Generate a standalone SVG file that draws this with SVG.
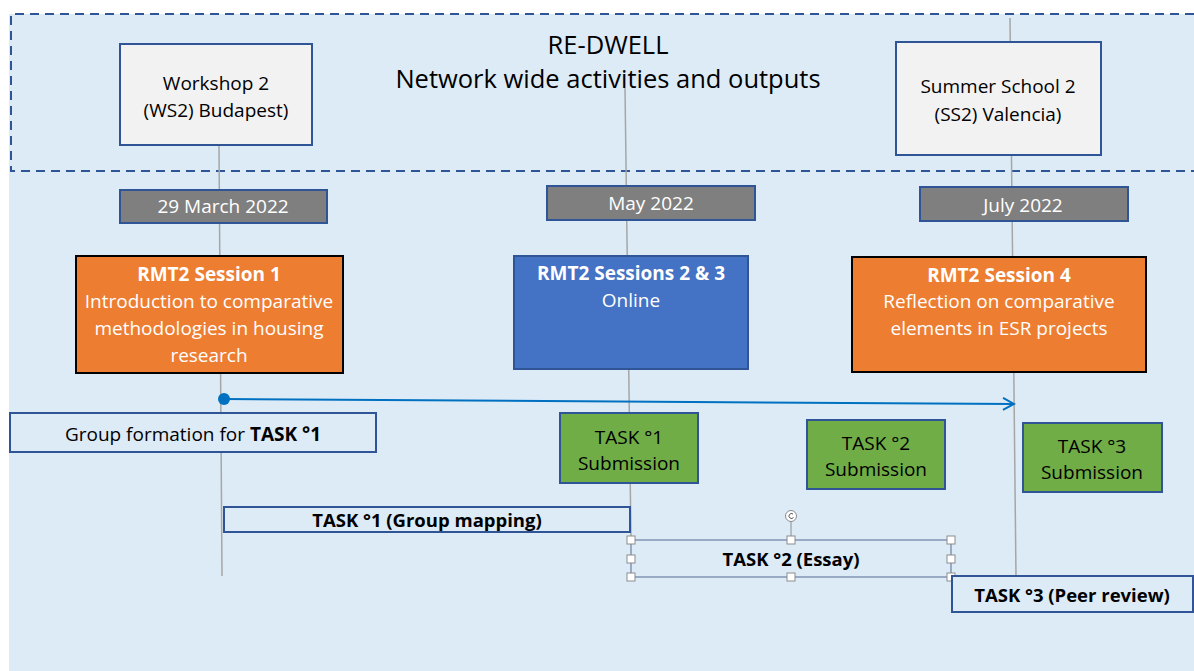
<svg xmlns="http://www.w3.org/2000/svg" width="1194" height="671" viewBox="0 0 1194 671">
<defs>
<style>
text{font-family:"Open Sans","Liberation Sans",sans-serif;text-anchor:middle}
.t18{font-size:19px;fill:#000}
.w{fill:#fff}
.b{font-weight:bold}
.tb{font-size:18.5px;font-weight:bold;fill:#000}
.venue{fill:#F2F2F2;stroke:#2F5597;stroke-width:2}
.date{fill:#7F7F7F;stroke:#2F5597;stroke-width:2}
.orange{fill:#ED7D31;stroke:#000;stroke-width:2}
.blue{fill:#4472C4;stroke:#2F5597;stroke-width:2}
.green{fill:#70AD47;stroke:#2F5597;stroke-width:2}
.task{fill:#DDEBF7;stroke:#2F5597;stroke-width:2}
.vline{stroke:#A6A6A6;stroke-width:1.5;fill:none}
.handle{fill:#fff;stroke:#8C8C8C;stroke-width:1}
</style>
<marker id="arr" markerWidth="14" markerHeight="14" refX="12" refY="7" orient="auto" markerUnits="userSpaceOnUse">
<path d="M1,1 L12,7 L1,13" fill="none" stroke="#0070C0" stroke-width="2"/>
</marker>
</defs>
<rect x="0" y="0" width="1194" height="671" fill="#fff"/>
<rect x="9" y="14" width="1185" height="657" fill="#DDEBF7"/>
<g id="network-band">
<path d="M1194,14 H11 V171 H1194" fill="none" stroke="#2F5597" stroke-width="2" stroke-dasharray="9,6"/>
<text class="t18" style="font-size:25.5px" x="608" y="54">RE-DWELL</text>
<text class="t18" style="font-size:25.5px" x="608" y="88">Network wide activities and outputs</text>
</g>
<g id="timelines">
<line class="vline" x1="219" y1="145" x2="222" y2="576"/>
<line class="vline" x1="625" y1="88" x2="631" y2="540"/>
<line class="vline" x1="1010" y1="18" x2="1016" y2="577"/>
</g>
<g id="ws2">
<rect class="venue" x="120" y="44" width="192" height="101"/>
<text class="t18" x="216" y="90">Workshop 2</text>
<text class="t18" x="216" y="117">(WS2) Budapest)</text>
</g>
<g id="ss2">
<rect class="venue" x="896" y="42" width="205" height="113"/>
<text class="t18" x="998" y="93">Summer School 2</text>
<text class="t18" x="998" y="121">(SS2) Valencia)</text>
</g>
<g id="date1">
<rect class="date" x="120" y="190" width="207" height="33"/>
<text class="t18 w" x="223" y="213">29 March 2022</text>
</g>
<g id="date2">
<rect class="date" x="547" y="186" width="208" height="34"/>
<text class="t18 w" x="651" y="210">May 2022</text>
</g>
<g id="date3">
<rect class="date" x="920" y="187" width="208" height="34"/>
<text class="t18 w" x="1023" y="212">July 2022</text>
</g>
<g id="session1">
<rect class="orange" x="76" y="256" width="267" height="117"/>
<text class="t18 w b" x="209" y="281">RMT2 Session 1</text>
<text class="t18 w" x="209" y="308">Introduction to comparative</text>
<text class="t18 w" x="209" y="335">methodologies in housing</text>
<text class="t18 w" x="209" y="362">research</text>
</g>
<g id="session23">
<rect class="blue" x="514" y="256" width="234" height="113"/>
<text class="t18 w b" x="631" y="280">RMT2 Sessions 2 &amp; 3</text>
<text class="t18 w" x="631" y="307">Online</text>
</g>
<g id="session4">
<rect class="orange" x="852" y="257" width="294" height="115"/>
<text class="t18 w b" x="999" y="282">RMT2 Session 4</text>
<text class="t18 w" x="999" y="308">Reflection on comparative</text>
<text class="t18 w" x="999" y="335">elements in ESR projects</text>
</g>
<g id="connectors">
<line x1="224" y1="399" x2="1014" y2="404" stroke="#0070C0" stroke-width="2" marker-end="url(#arr)"/>
<circle cx="224" cy="399" r="6" fill="#0070C0"/>
</g>
<g id="group-formation">
<rect class="task" x="10" y="413" width="366" height="39"/>
<text class="t18" x="193" y="441">Group formation for <tspan class="b">TASK °1</tspan></text>
</g>
<g id="task1-sub">
<rect class="green" x="560" y="413" width="138" height="70"/>
<text class="t18" x="629" y="444">TASK °1</text>
<text class="t18" x="629" y="470">Submission</text>
</g>
<g id="task2-sub">
<rect class="green" x="807" y="420" width="138" height="69"/>
<text class="t18" x="876" y="450">TASK °2</text>
<text class="t18" x="876" y="476">Submission</text>
</g>
<g id="task3-sub">
<rect class="green" x="1023" y="423" width="139" height="69"/>
<text class="t18" x="1092" y="453">TASK °3</text>
<text class="t18" x="1092" y="479">Submission</text>
</g>
<g id="task1">
<rect class="task" x="224" y="507" width="406" height="25"/>
<text class="tb" x="427" y="527">TASK °1 (Group mapping)</text>
</g>
<g id="task2">
<rect x="631" y="540" width="320" height="37" fill="none" stroke="#2F5597" stroke-width="1.5"/>
<rect x="631" y="540" width="320" height="37" fill="none" stroke="#D9D9D9" stroke-width="1"/>
<text class="tb" x="791" y="566">TASK °2 (Essay)</text>
<line x1="791" y1="521" x2="791" y2="540" stroke="#8C8C8C" stroke-width="1"/>
<circle cx="791" cy="516" r="5.5" fill="#fff" stroke="#8C8C8C" stroke-width="1"/>
<path d="M793,514 a2.5,2.5 0 1 0 0.5,3.5" fill="none" stroke="#555" stroke-width="1"/>
<rect class="handle" x="627" y="536" width="8" height="8"/>
<rect class="handle" x="787" y="536" width="8" height="8"/>
<rect class="handle" x="947" y="536" width="8" height="8"/>
<rect class="handle" x="627" y="555" width="8" height="8"/>
<rect class="handle" x="947" y="555" width="8" height="8"/>
<rect class="handle" x="627" y="573" width="8" height="8"/>
<rect class="handle" x="787" y="573" width="8" height="8"/>
<rect class="handle" x="947" y="573" width="8" height="8"/>
</g>
<g id="task3">
<rect class="task" x="952" y="576" width="241" height="36"/>
<text class="tb" x="1072" y="602">TASK °3 (Peer review)</text>
</g>
</svg>
